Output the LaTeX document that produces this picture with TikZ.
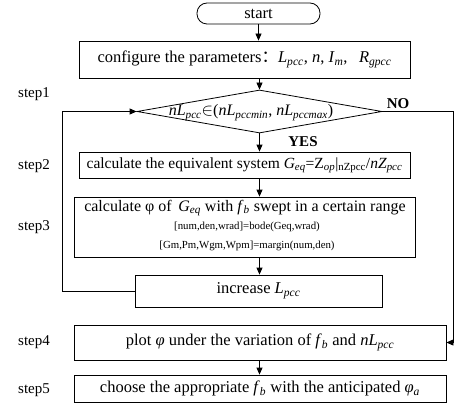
\documentclass[tikz,border=0pt]{standalone}
\usepackage{fontspec}
\setmainfont{Liberation Serif}
\newfontfamily\cjk{Noto Sans CJK SC}
\usepackage{tikz}
\usetikzlibrary{shapes.geometric}
\usetikzlibrary{arrows.meta}
\usetikzlibrary{positioning}
\newcommand{\iv}[2]{\textit{#1}\textsubscript{\textit{#2}}}

\begin{document}
\begin{tikzpicture}[x=1pt,y=-1pt,line width=0.8pt,
	box/.style={draw,rectangle,inner sep=0pt,font=\fontsize{16.5}{19}\selectfont},
	lab/.style={font=\fontsize{15}{17}\selectfont},
	yn/.style={font=\fontsize{15}{18}\selectfont\bfseries},
	arr/.style={-{Triangle[length=7pt,width=6pt]}}]
		\useasboundingbox (0,0) rectangle (462,406);
		\node[box,rounded corners=10pt,minimum width=123pt,minimum height=21pt] (start) at (258.5,13.5) {start};
		\node[box,minimum width=331pt,minimum height=37pt] (conf) at (244.5,59.5)
			{configure the parameters{\cjk ：}\iv{L}{pcc}, \textit{n}, \iv{I}{m},\;\, \iv{R}{gpcc}};
		\node[draw,diamond,inner sep=0pt,minimum width=245pt,minimum height=43pt] (cond) at (259.5,111.5) {};
		\node[font=\fontsize{16}{18}\selectfont] (condtxt) at (251,112.5)
			{\textit{n}\iv{L}{pcc}$\in$(\textit{n}\iv{L}{pccmin}, \textit{n}\iv{L}{pccmax})};
		\node[box,minimum width=331pt,minimum height=26pt,font=\fontsize{15.5}{18}\selectfont] (eqv) at (244.5,165)
			{calculate the equivalent system \iv{G}{eq}=Z\textsubscript{\textit{op}}|\textsubscript{nZpcc}/\textit{n}\iv{Z}{pcc}};
		\node[box,minimum width=341pt,minimum height=60pt] (sweep) at (244.5,227) {};
		\node[font=\fontsize{16}{19}\selectfont] (sweepa) at (245,208)
			{calculate φ of\, \iv{G}{eq} with \iv{f}{b} swept in a certain range};
		\node[font=\fontsize{10.8}{13}\selectfont] (sweepb) at (247,227) {[num,den,wrad]=bode(Geq,wrad)};
		\node[font=\fontsize{10.8}{13}\selectfont] (sweepc) at (247,246) {[Gm,Pm,Wgm,Wpm]=margin(num,den)};
		\node[box,minimum width=247pt,minimum height=32pt] (incr) at (258.5,291) {increase \iv{L}{pcc}};
		\node[box,minimum width=372pt,minimum height=35pt] (plot) at (260,342.5)
			{plot \textit{φ} under the variation of \iv{f}{b} and \textit{n}\iv{L}{pcc}};
		\node[box,minimum width=372pt,minimum height=27pt] (choose) at (260,388.5)
			{choose the appropriate \iv{f}{b} with the anticipated \iv{φ}{a}};
		\foreach \n/\y in {1/94,2/166,3/227,4/342,5/390}
		{
			\node[lab] (step\n) at (34,\y) {step\n};
		}
		\node[yn] (no) at (398,104) {NO};
		\node[yn] (yes) at (303,142) {YES};
		\coordinate (lx) at (62,0);
		\coordinate (rx) at (453,0);
		\draw[arr] (start.south) -- (start.south |- conf.north);
		\draw[arr] (cond.north |- conf.south) -- (cond.north);
		\draw[arr] (cond.south) -- (cond.south |- eqv.north);
		\draw[arr] (cond.south |- eqv.south) -- (cond.south |- sweep.north);
		\draw[arr] (cond.south |- sweep.south) -- (cond.south |- incr.north);
		\draw[arr] (incr.west) -| (lx |- cond.west) -- (cond.west);
		\draw[arr] (cond.east) -| (rx |- plot.east) -- (plot.east);
		\draw[arr] (cond.south |- plot.south) -- (cond.south |- choose.north);
\end{tikzpicture}
\end{document}
